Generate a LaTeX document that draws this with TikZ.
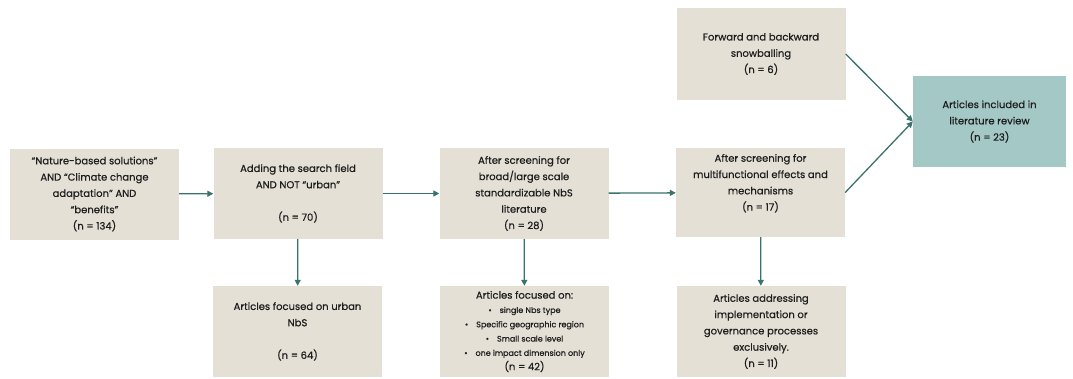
\documentclass[tikz,border=0pt]{standalone}
\usepackage{fontspec}
\setmainfont{Poppins}[FakeBold=0.6]
\usetikzlibrary{arrows.meta}
\definecolor{boxbeige}{HTML}{E4E0D6}
\definecolor{boxteal}{HTML}{A3C8C6}
\definecolor{flowline}{HTML}{3A726C}
\definecolor{txtgray}{HTML}{1E1E1E}
\tikzset{
  stagebox/.style={fill=boxbeige,draw=none,align=center,text=txtgray,
    font=\fontsize{10}{16.3}\selectfont,inner sep=2pt,
    minimum width=169pt,minimum height=91pt},
  flow/.style={draw=flowline,line width=1.3pt,-{Triangle[length=6pt,width=6pt]}}
}
\newcommand{\itemline}[1]{{\fontsize{8}{14}\selectfont\textbullet\quad #1}}
\begin{document}
\begin{tikzpicture}[x=1pt,y=-1pt]
\useasboundingbox (0,0) rectangle (1073,378);

\node[stagebox] (search) at (94.5,194) {``Nature-based solutions''\\AND ``Climate change\\adaptation'' AND\\``benefits''\\(n = 134)};
\node[stagebox] (urban) at (298,193.5) {Adding the search field\\AND NOT ``urban''\\[16.3pt](n = 70)};
\node[stagebox] (broad) at (524,193.5) {After screening for\\broad/large scale\\standardizable NbS\\literature\\(n = 28)};
\node[stagebox,minimum height=89pt] (multi) at (760.5,192.5) {After screening for\\multifunctional effects and\\mechanisms\\(n = 17)\\[4pt]};
\node[stagebox,minimum height=92pt] (snow) at (761,54) {Forward and backward\\snowballing\\(n = 6)};
\node[stagebox,fill=boxteal,minimum width=153pt] (review) at (989.5,121.5) {Articles included in\\literature review\\(n = 23)};

\node[stagebox] (exurban) at (297.5,331.5) {Articles focused on urban\\NbS\\[16.3pt](n = 64)};
\node[stagebox,font=\fontsize{10}{14.3}\selectfont] (exscope) at (524.5,331.5) {Articles focused on:\\
  \itemline{single Nbs type}\\
  \itemline{Specific geographic region}\\
  \itemline{Small scale level}\\
  \itemline{one impact dimension only}\\(n = 42)};
\node[stagebox] (exgov) at (761,331.5) {Articles addressing\\implementation or\\governance processes\\exclusively.\\(n = 11)};

\draw[flow] (search) -- (urban);
\draw[flow] (urban) -- (broad);
\draw[flow] (broad) -- (multi);
\draw[flow] (urban) -- (exurban);
\draw[flow] (broad) -- (exscope);
\draw[flow] (multi) -- (exgov);
\draw[flow] (snow.east) -- (review.west);
\draw[flow] (multi.east) -- (review.west);
\end{tikzpicture}
\end{document}
